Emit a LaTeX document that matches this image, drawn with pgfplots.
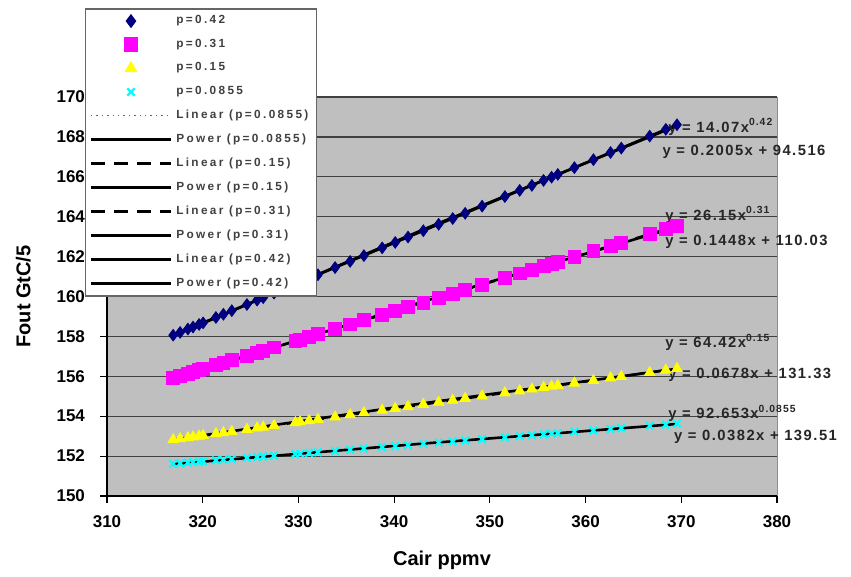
\documentclass[border=0pt]{standalone}
\usepackage{fontspec}
\setmainfont{Liberation Sans}
\newfontfamily\legfont[LetterSpace=20]{Liberation Sans}
\newfontfamily\eqfont[LetterSpace=10]{Liberation Sans}
\usepackage{pgfplots}
\usepackage{pgfplotstable}
\pgfplotsset{compat=1.18}
\definecolor{navyc}{RGB}{0,0,128}
\definecolor{magc}{RGB}{255,0,255}
\definecolor{yelc}{RGB}{255,255,0}
\definecolor{cyac}{RGB}{0,255,255}

\pgfplotstableread{
x a b c d
316.91 158.06 155.92 152.82 151.62
317.64 158.20 156.02 152.87 151.64
318.45 158.37 156.14 152.92 151.68
318.99 158.47 156.22 152.96 151.70
319.62 158.60 156.31 153.00 151.72
320.04 158.68 156.37 153.03 151.74
321.38 158.95 156.57 153.12 151.79
322.16 159.11 156.68 153.17 151.82
323.04 159.29 156.81 153.23 151.85
324.62 159.60 157.04 153.34 151.91
325.68 159.82 157.19 153.41 151.95
326.32 159.94 157.28 153.45 151.98
327.45 160.17 157.45 153.53 152.02
329.68 160.62 157.77 153.68 152.10
330.18 160.72 157.84 153.72 152.12
331.11 160.90 157.98 153.78 152.16
332.04 161.09 158.11 153.84 152.19
333.83 161.45 158.37 153.96 152.26
335.40 161.76 158.60 154.07 152.32
336.84 162.05 158.81 154.17 152.38
338.75 162.44 159.08 154.30 152.45
340.11 162.71 159.28 154.39 152.50
341.45 162.98 159.47 154.48 152.55
343.05 163.30 159.70 154.59 152.62
344.65 163.62 159.94 154.70 152.68
346.12 163.91 160.15 154.80 152.73
347.42 164.17 160.34 154.89 152.78
349.19 164.53 160.59 155.01 152.85
351.57 165.01 160.94 155.17 152.94
353.12 165.32 161.16 155.27 153.00
354.39 165.57 161.35 155.36 153.05
355.61 165.82 161.52 155.44 153.09
356.45 165.98 161.64 155.50 153.13
357.10 166.12 161.74 155.54 153.15
358.83 166.46 161.99 155.66 153.22
360.82 166.86 162.28 155.79 153.29
362.61 167.22 162.54 155.92 153.36
363.73 167.44 162.70 155.99 153.40
366.70 168.04 163.13 156.19 153.52
368.38 168.38 163.37 156.31 153.58
369.55 168.61 163.54 156.39 153.63
}\datatable

\begin{document}
\begin{tikzpicture}
\begin{axis}[
  name=ax,
  scale only axis, width=335pt, height=199.5pt,
  xmin=310, xmax=380, ymin=150, ymax=170,
  xtick={310,320,...,380}, ytick={150,152,...,170},
  axis x line*=bottom, axis y line*=left,
  x axis line style={-}, y axis line style={-},
  axis line style={black, line width=0.8pt},
  ymajorgrids, grid style={black!75, line width=0.6pt},
  axis background/.style={fill=black!25, draw=black!45},
  tick align=outside, major tick length=3.5pt,
  tick style={black, line width=0.6pt},
  /pgf/number format/assume math mode=true,
  ticklabel style={font=\bfseries\fontsize{8.5}{10}\selectfont},
  xticklabel style={yshift=-3pt},
  yticklabel style={xshift=-4pt},
  xlabel={Cair ppmv}, ylabel={Fout GtC/5},
  xlabel style={at={(axis description cs:0.5,-0.162)}, anchor=center, font=\bfseries\fontsize{10}{12}\selectfont},
  ylabel style={at={(axis description cs:-0.125,0.5)}, anchor=center, font=\bfseries\fontsize{10}{12}\selectfont},
  clip=false,
  legend cell align=left,
  legend image code/.code={\draw[mark repeat=2,mark phase=2,#1] plot coordinates {(0pt,0pt) (20pt,0pt) (40pt,0pt)};},
  legend style={at={(-0.033,1.223)}, anchor=north west,
    font=\legfont\bfseries\fontsize{5.9}{6.5}\selectfont, text=black!75,
    draw=black!60, line width=0.8pt, fill=white,
    inner xsep=2pt, inner ysep=1.3pt, row sep=2.2pt},
]
\addplot[only marks, mark=diamond*, mark size=2.9pt, color=navyc] table[x=x,y=a] {\datatable};
\addlegendentry{p=0.42}
\addplot[only marks, mark=square*, mark size=3.2pt, color=magc] table[x=x,y=b] {\datatable};
\addlegendentry{p=0.31}
\addplot[only marks, mark=triangle*, mark size=3.0pt, color=yelc] table[x=x,y=c] {\datatable};
\addlegendentry{p=0.15}
\addplot[only marks, mark=x, mark size=2.6pt, line width=1.1pt, color=cyac] table[x=x,y=d] {\datatable};
\addlegendentry{p=0.0855}
% trendlines
\addplot[black!60, dotted, line width=0.7pt] coordinates {(316.91,151.62) (369.55,153.63)};
\addlegendentry{Linear (p=0.0855)}
\addplot[black, line width=1.3pt] coordinates {(316.91,151.60) (343.05,152.63) (369.55,153.61)};
\addlegendentry{Power (p=0.0855)}
\addplot[black, line width=1.2pt, dash pattern=on 7pt off 4.5pt] coordinates {(316.91,152.82) (369.55,156.39)};
\addlegendentry{Linear (p=0.15)}
\addplot[black, line width=1.3pt] coordinates {(316.91,152.82) (343.05,154.65) (369.55,156.38)};
\addlegendentry{Power (p=0.15)}
\addplot[black, line width=1.2pt, dash pattern=on 7pt off 4.5pt] coordinates {(316.91,155.92) (369.55,163.54)};
\addlegendentry{Linear (p=0.31)}
\addplot[black, line width=1.3pt] coordinates {(316.91,155.88) (343.05,159.75) (369.55,163.49)};
\addlegendentry{Power (p=0.31)}
\addplot[black, line width=1.3pt] coordinates {(316.91,158.06) (369.55,168.61)};
\addlegendentry{Linear (p=0.42)}
\addplot[black, line width=1.3pt] coordinates {(316.91,158.02) (343.05,163.36) (369.55,168.56)};
\addlegendentry{Power (p=0.42)}
% equations
\begin{scope}[every node/.style={anchor=west, inner sep=0pt, font=\eqfont\bfseries\fontsize{7.4}{8}\selectfont, text=black!85}]
\node at (axis cs:368.6,168.5) {y = 14.07x\textsuperscript{0.42}};
\node at (axis cs:368.0,167.24) {y = 0.2005x + 94.516};
\node at (axis cs:368.3,164.09) {y = 26.15x\textsuperscript{0.31}};
\node at (axis cs:368.3,162.73) {y = 0.1448x + 110.03};
\node at (axis cs:368.3,157.72) {y = 64.42x\textsuperscript{0.15}};
\node at (axis cs:368.6,156.07) {y = 0.0678x + 131.33};
\node at (axis cs:368.6,154.16) {y = 92.653x\textsuperscript{0.0855}};
\node at (axis cs:369.2,152.96) {y = 0.0382x + 139.51};
\end{scope}
\end{axis}
\useasboundingbox ([xshift=-53.5pt,yshift=-39pt]ax.south west) rectangle ([xshift=37pt,yshift=48.5pt]ax.north east);
\end{tikzpicture}
\end{document}
